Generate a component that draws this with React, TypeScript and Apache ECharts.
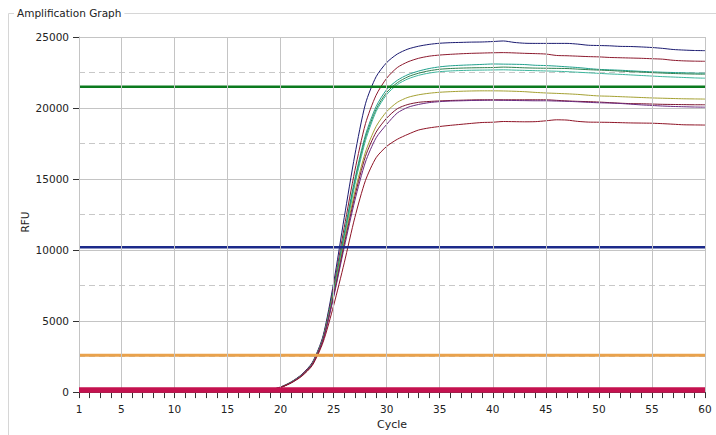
import React, { useEffect, useRef } from "react";
import * as echarts from "echarts";

const cycles = [
  1, 2, 3, 4, 5, 6, 7, 8, 9, 10, 11, 12, 13, 14, 15, 16, 17, 18, 19, 20,
  21, 22, 23, 24, 25, 26, 27, 28, 29, 30, 31, 32, 33, 34, 35, 36, 37, 38, 39, 40,
  41, 42, 43, 44, 45, 46, 47, 48, 49, 50, 51, 52, 53, 54, 55, 56, 57, 58, 59, 60,
];
const xTickLabels = [1, 5, 10, 15, 20, 25, 30, 35, 40, 45, 50, 55, 60];

const Z18 = [0, 0, 0, 0, 0, 0, 0, 0, 0, 0, 0, 0, 0, 0, 0, 0, 0, 0];

const curveNavy = [...Z18, 150, 360, 720, 1250, 2100, 3950, 7700, 12300, 16700, 20300, 22200, 23200, 23800, 24150, 24350, 24480, 24560, 24600, 24620, 24640, 24650, 24680, 24720, 24620, 24560, 24550, 24550, 24550, 24550, 24500, 24420, 24400, 24380, 24340, 24330, 24300, 24260, 24200, 24120, 24080, 24050, 24040];
const curveDarkRed = [...Z18, 145, 350, 700, 1220, 2050, 3850, 7400, 11600, 15600, 18900, 20900, 22100, 22850, 23250, 23500, 23650, 23730, 23780, 23820, 23850, 23870, 23890, 23900, 23880, 23850, 23830, 23800, 23700, 23680, 23650, 23620, 23600, 23560, 23540, 23520, 23500, 23470, 23440, 23360, 23320, 23300, 23290];
const curveTeal = [...Z18, 140, 340, 690, 1200, 2020, 3800, 7200, 11200, 15000, 18100, 20100, 21300, 21950, 22350, 22600, 22780, 22900, 22970, 23010, 23040, 23070, 23100, 23090, 23080, 23060, 23010, 22990, 22950, 22900, 22850, 22780, 22720, 22690, 22660, 22620, 22580, 22550, 22520, 22500, 22480, 22460, 22450];
const curveGreen = [...Z18, 140, 340, 690, 1190, 2010, 3770, 7100, 11000, 14800, 17900, 19900, 21100, 21780, 22200, 22450, 22620, 22730, 22780, 22810, 22830, 22840, 22850, 22880, 22860, 22830, 22810, 22800, 22790, 22780, 22740, 22700, 22670, 22640, 22600, 22560, 22530, 22490, 22460, 22430, 22410, 22390, 22380];
const curveSea = [...Z18, 138, 335, 680, 1180, 2000, 3750, 7000, 10800, 14600, 17700, 19750, 20950, 21650, 22050, 22300, 22460, 22560, 22610, 22640, 22660, 22670, 22680, 22690, 22670, 22650, 22630, 22610, 22590, 22560, 22520, 22480, 22440, 22400, 22370, 22330, 22290, 22250, 22210, 22180, 22150, 22120, 22100];
const curveOlive = [...Z18, 138, 335, 680, 1180, 1990, 3720, 6900, 10600, 14100, 16900, 18700, 19750, 20400, 20750, 20930, 21040, 21110, 21150, 21180, 21200, 21210, 21210, 21200, 21180, 21150, 21100, 21060, 21030, 21000, 20960, 20900, 20850, 20830, 20800, 20770, 20740, 20710, 20690, 20670, 20650, 20640, 20630];
const curveMaroon = [...Z18, 135, 330, 670, 1170, 1970, 3690, 6800, 10400, 13800, 16600, 18300, 19290, 19950, 20250, 20400, 20460, 20500, 20530, 20550, 20570, 20580, 20580, 20580, 20580, 20580, 20580, 20580, 20540, 20500, 20470, 20450, 20420, 20380, 20340, 20310, 20300, 20280, 20260, 20250, 20240, 20230, 20230];
const curvePurple = [...Z18, 135, 330, 665, 1160, 1960, 3660, 6700, 10200, 13500, 16200, 17900, 18850, 19650, 20050, 20250, 20380, 20450, 20490, 20510, 20530, 20540, 20550, 20540, 20530, 20520, 20510, 20510, 20490, 20470, 20440, 20400, 20370, 20350, 20320, 20270, 20220, 20180, 20140, 20110, 20090, 20070, 20060];
const curveRed = [...Z18, 130, 320, 640, 1120, 1890, 3500, 6100, 9100, 12300, 14900, 16500, 17300, 17800, 18150, 18450, 18600, 18700, 18780, 18850, 18920, 18980, 19000, 19050, 19040, 19030, 19040, 19100, 19170, 19150, 19060, 19010, 19000, 18990, 18970, 18950, 18940, 18930, 18900, 18860, 18820, 18810, 18800];

const curves = [curveNavy, curveDarkRed, curveTeal, curveGreen, curveSea, curveOlive, curveMaroon, curvePurple, curveRed];
const curveNames = ["A1", "A2", "A3", "A4", "A5", "A6", "A7", "A8", "A9"];
const curveColors = ["#1b1b70", "#8c1a2e", "#20a08c", "#2e7f4e", "#3cb59c", "#a4a032", "#7c1530", "#6a2a7e", "#8e1426"];

const thresholdNames = ["Threshold 1", "Threshold 2", "Threshold 3"];
const thresholdValues = [21500, 10200, 2600];
const thresholdColors = ["#0b7a1e", "#1c2a8a", "#e9a24c"];
const thresholdWidths = [2.5, 2.5, 3];

const baselineLevel = 140;

const FONT = "DejaVu Sans";

export default function App() {
  const ref = useRef<HTMLDivElement>(null);

  useEffect(() => {
    if (!ref.current) return;
    const chart = echarts.init(ref.current, undefined, { renderer: "svg" });

    const series: any[] = [];
    // vertical grid lines
    series.push({
      type: "line",
      data: [],
      z: 1,
      silent: true,
      markLine: {
        silent: true,
        symbol: "none",
        label: { show: false },
        lineStyle: { color: "#c4c4c4", width: 1, type: "solid" },
        data: xTickLabels.map((v) => ({ xAxis: v })),
      },
    });
    curves.forEach((arr, k) => {
      series.push({
        name: curveNames[k],
        type: "line",
        data: cycles.map((c, i) => [c, arr[i]]),
        showSymbol: false,
        smooth: 0.25,
        lineStyle: { color: curveColors[k], width: 1 },
        z: 3,
      });
    });
    thresholdValues.forEach((v, k) => {
      series.push({
        name: thresholdNames[k],
        type: "line",
        data: [
          [cycles[0], v],
          [cycles[cycles.length - 1], v],
        ],
        showSymbol: false,
        lineStyle: { color: thresholdColors[k], width: thresholdWidths[k] },
        z: 4,
      });
    });
    series.push({
      name: "Baseline",
      type: "line",
      data: [
        [cycles[0], baselineLevel],
        [cycles[cycles.length - 1], baselineLevel],
      ],
      showSymbol: false,
      lineStyle: { color: "#c4124f", width: 5.5 },
      z: 5,
    });

    chart.setOption({
      animation: false,
      backgroundColor: "#ffffff",
      textStyle: { fontFamily: FONT },
      grid: { left: 79, right: 11, top: 37, bottom: 42, containLabel: false },
      xAxis: {
        type: "value",
        min: 1,
        max: 60,
        name: "Cycle",
        nameLocation: "middle",
        nameGap: 26,
        nameTextStyle: { fontFamily: FONT, fontSize: 11, color: "#222" },
        axisLine: { show: true, lineStyle: { color: "#444" } },
        axisTick: {
          show: true,
          length: 6,
          customValues: cycles,
          lineStyle: { color: "#333" },
        },
        axisLabel: {
          customValues: xTickLabels,
          margin: 11,
          fontFamily: FONT,
          fontSize: 10.5,
          color: "#222",
        },
        splitLine: { show: false },
      },
      yAxis: {
        type: "value",
        min: 0,
        max: 25000,
        interval: 5000,
        axisLine: { show: true, lineStyle: { color: "#b0b0b0" } },
        axisTick: { show: true, length: 6, lineStyle: { color: "#333" } },
        axisLabel: {
          margin: 10,
          fontFamily: FONT,
          fontSize: 10.5,
          color: "#222",
          formatter: (v: number) => String(v),
        },
        splitLine: { show: true, lineStyle: { color: "#c4c4c4", width: 1 } },
        minorTick: { show: false, splitNumber: 2 },
        minorSplitLine: {
          show: true,
          lineStyle: { color: "#c8c8c8", width: 1, type: [6, 4] },
        },
      },
      graphic: [
        {
          type: "rect",
          silent: true,
          shape: { x: 8.5, y: 13.5, width: 720, height: 440 },
          style: { fill: "none", stroke: "#d6d6d6", lineWidth: 1 },
          z: 0,
        },
        {
          type: "text",
          x: 14,
          y: 13,
          style: {
            text: "Amplification Graph",
            fontFamily: FONT,
            fontSize: 10.5,
            fill: "#222",
            backgroundColor: "#fff",
            padding: [1, 3],
            verticalAlign: "middle",
          },
          z: 10,
        },
        {
          type: "text",
          x: 25,
          y: 222,
          rotation: Math.PI / 2,
          style: {
            text: "RFU",
            fontFamily: FONT,
            fontSize: 10.5,
            fill: "#222",
            align: "center",
            verticalAlign: "middle",
          },
          z: 10,
        },
      ],
      series,
    });

    return () => chart.dispose();
  }, []);

  return (
    <div
      ref={ref}
      style={{ position: "fixed", left: 0, top: 0, width: 716, height: 435, background: "#fff" }}
    />
  );
}
